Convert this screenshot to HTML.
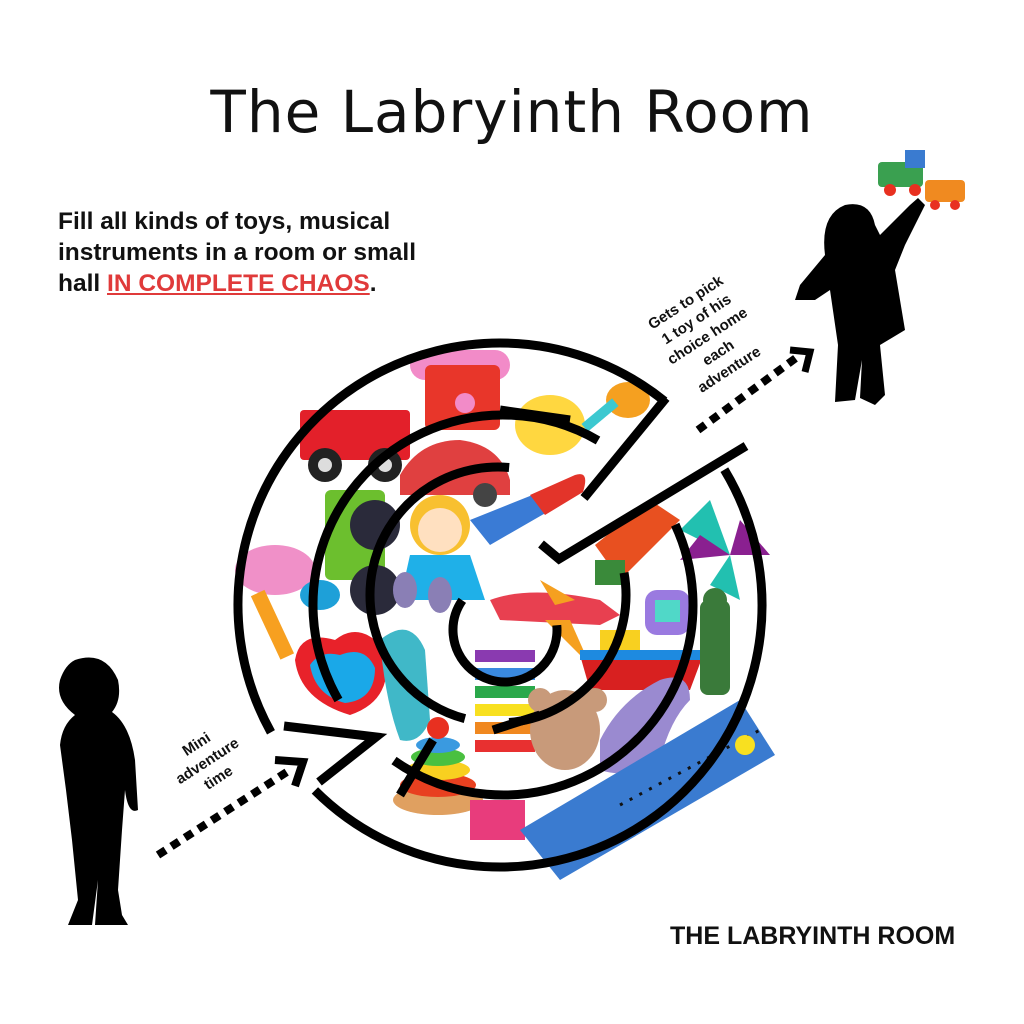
<!DOCTYPE html>
<html><head><meta charset="utf-8"><style>
html,body{margin:0;padding:0;background:#fff}
body{width:1024px;height:1024px;position:relative;overflow:hidden;font-family:"Liberation Sans",sans-serif}
.t{position:absolute}
</style></head><body>
<div class="t" style="left:0;width:1024px;top:78px;text-align:center;font-family:'DejaVu Sans',sans-serif;font-size:58px;color:#111;letter-spacing:1px">The Labryinth Room</div>
<div class="t" style="left:58px;top:206px;font-size:24.5px;font-weight:bold;line-height:31px;color:#111">Fill all kinds of toys, musical<br>instruments in a room or small<br>hall <span style="color:#e03a3a;text-decoration:underline">IN COMPLETE CHAOS</span>.</div>
<div class="t" style="left:670px;top:922px;font-size:25px;font-weight:bold;color:#111">THE LABRYINTH ROOM</div>

<svg width="1024" height="1024" style="position:absolute;left:0;top:0">
<g>
<rect x="410" y="350" width="100" height="30" rx="15" fill="#f28bc8"/>
<rect x="425" y="365" width="75" height="65" rx="6" fill="#e8362a"/>
<circle cx="465" cy="403" r="10" fill="#f28bc8"/>
<rect x="300" y="410" width="110" height="50" rx="4" fill="#e3202a"/>
<circle cx="325" cy="465" r="17" fill="#222"/><circle cx="385" cy="465" r="17" fill="#222"/>
<circle cx="325" cy="465" r="7" fill="#ddd"/><circle cx="385" cy="465" r="7" fill="#ddd"/>
<path d="M400 475 Q420 440 460 440 Q500 445 510 480 L510 495 L400 495Z" fill="#e04040"/>
<circle cx="485" cy="495" r="12" fill="#444"/>
<ellipse cx="550" cy="425" rx="35" ry="30" fill="#ffd740"/>
<ellipse cx="628" cy="400" rx="22" ry="18" fill="#f5a020"/>
<rect x="580" y="410" width="40" height="10" fill="#3cc8d0" transform="rotate(-40 600 415)"/>
<path d="M470 520 L570 480 Q590 470 582 492 L490 545 Z" fill="#3a7bd5"/>
<path d="M530 495 L575 475 Q590 470 583 492 L545 515Z" fill="#e3342a"/>
<rect x="325" y="490" width="60" height="90" rx="6" fill="#6cbf2e"/>
<circle cx="375" cy="525" r="25" fill="#2a2a3a"/><circle cx="375" cy="590" r="25" fill="#2a2a3a"/>
<circle cx="440" cy="525" r="30" fill="#f8c030"/>
<circle cx="440" cy="530" r="22" fill="#ffe0c0"/>
<path d="M410 555 L470 555 L485 600 L400 600Z" fill="#1fb0e8"/>
<ellipse cx="405" cy="590" rx="12" ry="18" fill="#8a7fb5"/><ellipse cx="440" cy="595" rx="12" ry="18" fill="#8a7fb5"/>
<ellipse cx="275" cy="570" rx="40" ry="25" fill="#f090c8"/>
<ellipse cx="320" cy="595" rx="20" ry="15" fill="#1ea0d8"/>
<path d="M295 660 Q300 630 335 640 Q360 620 385 650 Q395 700 350 715 Q300 700 295 660Z" fill="#e8222a"/>
<path d="M310 665 Q320 650 340 655 Q365 645 375 668 Q375 700 345 703 Q315 695 310 665Z" fill="#1aa8e8"/>
<rect x="265" y="590" width="15" height="70" fill="#f7a020" transform="rotate(-25 272 625)"/>
<path d="M490 600 Q530 585 600 600 L620 615 L600 625 L500 620Z" fill="#e84050"/>
<path d="M540 580 L575 600 L555 605Z" fill="#f5a020"/><path d="M545 620 L590 665 L570 620Z" fill="#f5a020"/>
<path d="M595 545 L650 500 L680 520 L620 580Z" fill="#e85020"/>
<rect x="595" y="560" width="30" height="25" fill="#3a8a3a"/>
<path d="M710 500 L730 555 L680 530Z" fill="#22c0b0"/><path d="M730 555 L770 555 L740 520Z" fill="#8a2090"/>
<path d="M730 555 L740 600 L710 585Z" fill="#22c0b0"/><path d="M730 555 L680 560 L700 535Z" fill="#8a2090"/>
<rect x="645" y="590" width="45" height="45" rx="12" fill="#9a7ae0"/><rect x="655" y="600" width="25" height="22" fill="#50d8c8"/>
<rect x="600" y="630" width="40" height="22" fill="#f8d020"/>
<path d="M580 655 L705 650 L690 690 L590 690Z" fill="#d82020"/><rect x="580" y="650" width="125" height="10" fill="#1e8ae0"/>
<rect x="700" y="600" width="30" height="95" rx="8" fill="#3a7a3a"/><circle cx="715" cy="600" r="12" fill="#3a7a3a"/>
<path d="M380 640 Q410 615 425 650 L430 720 Q420 745 400 740 Q385 700 380 640Z" fill="#40b8c8"/>
<rect x="475" y="650" width="60" height="12" fill="#8a3ab0"/><rect x="475" y="668" width="60" height="12" fill="#3a8ae0"/>
<rect x="475" y="686" width="60" height="12" fill="#2aa84a"/><rect x="475" y="704" width="60" height="12" fill="#f8e020"/>
<rect x="475" y="722" width="60" height="12" fill="#f08820"/><rect x="475" y="740" width="60" height="12" fill="#e83030"/>
<ellipse cx="565" cy="730" rx="35" ry="40" fill="#c89a7a"/><circle cx="540" cy="700" r="12" fill="#c89a7a"/><circle cx="595" cy="700" r="12" fill="#c89a7a"/>
<path d="M600 740 Q620 700 660 680 Q690 670 690 700 Q670 720 660 760 Q630 780 600 770Z" fill="#9a8ad0"/>
<ellipse cx="438" cy="800" rx="45" ry="15" fill="#e0a060"/>
<ellipse cx="438" cy="785" rx="38" ry="12" fill="#e84020"/><ellipse cx="438" cy="770" rx="32" ry="10" fill="#f8d020"/>
<ellipse cx="438" cy="757" rx="27" ry="9" fill="#4ac040"/><ellipse cx="438" cy="745" rx="22" ry="8" fill="#3a9ae0"/>
<circle cx="438" cy="728" r="11" fill="#e83020"/>
<rect x="470" y="800" width="55" height="40" fill="#e83c7c"/>
<path d="M520 830 L740 700 L775 755 L560 880Z" fill="#3a7bd0"/>
<path d="M620 805 L760 730" stroke="#111" stroke-width="3" stroke-dasharray="3 8"/>
<circle cx="745" cy="745" r="10" fill="#f8e020"/>
</g>
<g fill="none" stroke="#000" stroke-width="9" stroke-linecap="butt">
<circle cx="500" cy="605" r="262" pathLength="360" stroke-dasharray="166 16 158 20" transform="rotate(-31 500 605)"/>
<circle cx="503" cy="605" r="190" pathLength="360" stroke-dasharray="150 25 150 35" transform="rotate(-25 503 605)"/>
<circle cx="498" cy="595" r="128" pathLength="360" stroke-dasharray="95 20 170 75" transform="rotate(-10 498 595)"/>
<circle cx="505" cy="630" r="52" pathLength="360" stroke-dasharray="220 140" transform="rotate(-5 505 630)"/>
<path d="M284 726 L376 737 L319 782"/>
<path d="M666 398 L584 498"/>
<path d="M746 446 L559 559 L541 544"/>
<path d="M500 410 L570 420"/>
<path d="M433 740 L400 795"/>
<path d="M493 730 L540 715"/>
</g>
<g fill="none" stroke="#000" stroke-width="8">
<path d="M158 855 L290 770" stroke-dasharray="9 7"/>
<path d="M698 430 L800 355" stroke-dasharray="9 7"/>
</g>
<path d="M275 760 L303 762 L295 786" fill="none" stroke="#000" stroke-width="8"/>
<path d="M790 350 L810 352 L805 372" fill="none" stroke="#000" stroke-width="7"/>
<g font-family="Liberation Sans,sans-serif" font-weight="bold" font-size="15" fill="#111" text-anchor="middle">
<g transform="rotate(-33 210 765)"><text x="210" y="745">Mini</text><text x="210" y="765">adventure</text><text x="210" y="785">time</text></g>
<g transform="rotate(-33 710 340)"><text x="710" y="300">Gets to pick</text><text x="710" y="320">1 toy of his</text><text x="710" y="340">choice home</text><text x="710" y="360">each</text><text x="710" y="380">adventure</text></g>
</g>
<path fill="#000" d="M75 660 Q105 650 118 680 Q122 700 112 712 Q130 725 135 760 L138 810 Q128 815 125 790 L122 830 L118 890 L122 915 L128 925 L95 925 L98 880 L92 925 L68 925 L78 900 L72 840 L66 790 L60 745 Q62 725 75 715 Q55 700 60 680 Q65 665 75 660Z"/>
<path fill="#000" d="M845 205 Q870 200 875 225 L880 235 L910 205 L918 198 L925 205 L905 245 L895 270 L905 330 L880 345 L885 395 L875 405 L860 398 L862 360 L855 400 L835 402 L838 345 L830 290 L815 300 L795 300 L800 285 L825 255 Q820 215 845 205Z"/>
<rect x="878" y="162" width="45" height="25" rx="4" fill="#3aa050"/>
<rect x="905" y="150" width="20" height="18" fill="#3a7bd0"/>
<rect x="925" y="180" width="40" height="22" rx="4" fill="#f08a20"/>
<circle cx="890" cy="190" r="6" fill="#e83020"/><circle cx="915" cy="190" r="6" fill="#e83020"/>
<circle cx="935" cy="205" r="5" fill="#e83020"/><circle cx="955" cy="205" r="5" fill="#e83020"/>
</svg>
</body></html>
